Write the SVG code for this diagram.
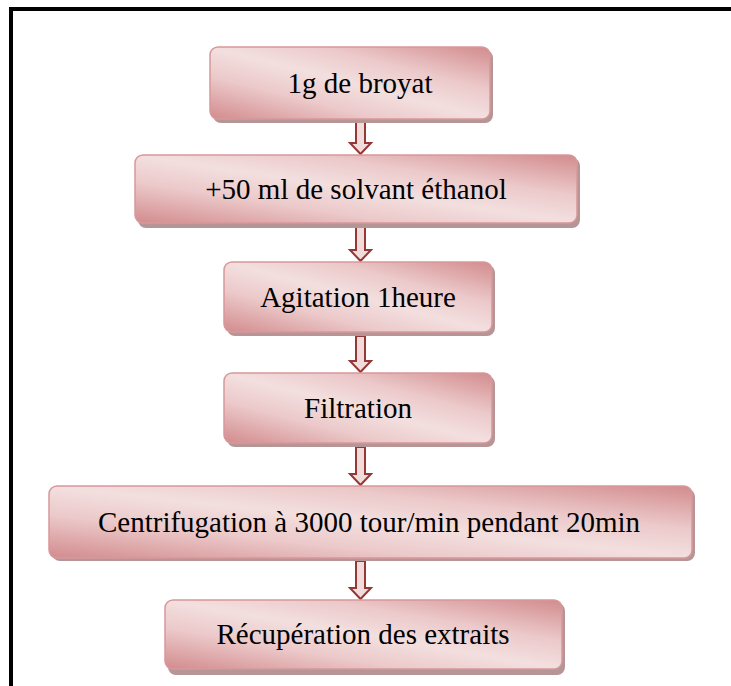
<svg xmlns="http://www.w3.org/2000/svg" width="731" height="686" viewBox="0 0 731 686">
<defs>
<linearGradient id="g" x1="0" y1="1" x2="1" y2="0">
<stop offset="0" stop-color="#d28b8d"/>
<stop offset="0.3" stop-color="#ecc9ca"/>
<stop offset="0.5" stop-color="#f3dfdf"/>
<stop offset="0.7" stop-color="#ecc9ca"/>
<stop offset="1" stop-color="#d28b8d"/>
</linearGradient>
</defs>
<style>
.sh{fill:#b59596;}
.bx{fill:url(#g);stroke:#d7989a;stroke-width:1.5;}
.t{font-family:"Liberation Serif","Times New Roman",serif;font-size:29px;fill:#000;text-anchor:middle;dominant-baseline:central;}
.ar{fill:#f2dcdb;stroke:#953735;stroke-width:2;stroke-linejoin:miter;}
.fr{fill:none;stroke:#000;stroke-width:4;}
</style>
<rect width="731" height="686" fill="#fff"/>
<path class="fr" d="M11,686 V9 H731"/>
<g id="connectors">
<path class="ar" d="M356,120 H365 V143 H371 L360.5,154 L350,143 H356 Z"/>
<path class="ar" d="M356,227 H365 V250 H371 L360.5,261 L350,250 H356 Z"/>
<path class="ar" d="M356,336 H365 V361 H371 L360.5,372 L350,361 H356 Z"/>
<path class="ar" d="M356,447 H365 V474 H371 L360.5,485 L350,474 H356 Z"/>
<path class="ar" d="M356,561 H365 V588 H371 L360.5,599 L350,588 H356 Z"/>
</g>
<g id="n1">
<rect class="sh" x="213" y="50" width="280" height="73" rx="8"/>
<rect class="bx" x="210" y="47" width="280" height="72" rx="8"/>
<text class="t" x="360" y="83">1g de broyat</text>
</g>
<g id="n2">
<rect class="sh" x="138" y="158" width="442" height="70" rx="8"/>
<rect class="bx" x="135" y="155" width="442" height="68" rx="8"/>
<text class="t" x="356" y="189">+50 ml de solvant éthanol</text>
</g>
<g id="n3">
<rect class="sh" x="227" y="265" width="268" height="71" rx="8"/>
<rect class="bx" x="224" y="262" width="268" height="70" rx="8"/>
<text class="t" x="358" y="297">Agitation 1heure</text>
</g>
<g id="n4">
<rect class="sh" x="227" y="376" width="268" height="71" rx="8"/>
<rect class="bx" x="224" y="373" width="268" height="70" rx="8"/>
<text class="t" x="358" y="408">Filtration</text>
</g>
<g id="n5">
<rect class="sh" x="52" y="489" width="643" height="72" rx="8"/>
<rect class="bx" x="49" y="486" width="643" height="72" rx="8"/>
<text class="t" x="369" y="522">Centrifugation à 3000 tour/min pendant 20min</text>
</g>
<g id="n6">
<rect class="sh" x="168" y="603" width="397" height="72" rx="8"/>
<rect class="bx" x="165" y="600" width="397" height="69" rx="8"/>
<text class="t" x="363" y="634">Récupération des extraits</text>
</g>
</svg>
